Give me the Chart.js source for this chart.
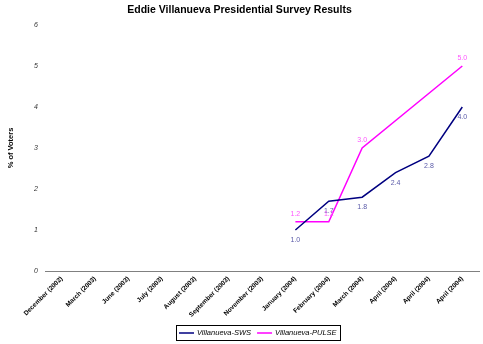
<!DOCTYPE html>
<html>
<head>
<meta charset="utf-8">
<script src="https://cdn.jsdelivr.net/npm/chart.js@4.4.1/dist/chart.umd.min.js"></script>
<style>
  html, body { margin: 0; padding: 0; background: #fff; }
  #wrap { width: 483px; height: 344px; }
</style>
</head>
<body>
<div id="wrap"><canvas id="survey"></canvas></div>
<script>
const months = [
    'December (2002)', 'March (2003)', 'June (2003)', 'July (2003)', 'August (2003)',
    'September (2003)', 'November (2003)', 'January (2004)', 'February (2004)',
    'March (2004)', 'April (2004)', 'April (2004)', 'April (2004)'
];
const swsValues = [null, null, null, null, null, null, null, 1.0, 1.7, 1.8, 2.4, 2.8, 4.0];
const pulseValues = [null, null, null, null, null, null, null, 1.2, 1.2, 3.0, null, null, 5.0];
const yTicks = [0, 1, 2, 3, 4, 5, 6];

const FONT = 'Arial, "Liberation Sans", sans-serif';

// value labels next to each point: SWS under the line, PULSE above it
const pointLabels = {
    id: 'pointLabels',
    afterDatasetsDraw(chart) {
        const ctx = chart.ctx;
        ctx.save();
        ctx.font = '7px ' + FONT;
        ctx.textAlign = 'center';
        ctx.textBaseline = 'alphabetic';
        chart.data.datasets.forEach((ds, i) => {
            const meta = chart.getDatasetMeta(i);
            meta.data.forEach((pt, j) => {
                const v = ds.data[j];
                if (v === null) return;
                ctx.fillStyle = ds.labelColor;
                ctx.fillText(v.toFixed(1), pt.x, pt.y + (ds.labelBelow ? 12 : -6));
            });
        });
        ctx.restore();
    }
};

// boxed legend under the axis labels
const boxLegend = {
    id: 'boxLegend',
    afterDraw(chart) {
        const ctx = chart.ctx;
        const sets = chart.data.datasets;
        const cx = 258, top = 325, h = 15;
        const sample = 15, gap = 3, spacing = 6;
        ctx.save();
        ctx.font = 'italic 7.5px ' + FONT;
        const widths = sets.map(ds => sample + gap + ctx.measureText(ds.label).width);
        const total = widths.reduce((a, b) => a + b, 0) + spacing * (sets.length - 1) + 6;
        let x = Math.round(cx - total / 2);
        ctx.strokeStyle = '#000';
        ctx.lineWidth = 1;
        ctx.strokeRect(x + 0.5, top + 0.5, Math.round(total), h);
        x += 3;
        const mid = top + h / 2 + 0.5;
        sets.forEach((ds, i) => {
            ctx.strokeStyle = ds.borderColor;
            ctx.lineWidth = 1.5;
            ctx.beginPath();
            ctx.moveTo(x, mid);
            ctx.lineTo(x + sample, mid);
            ctx.stroke();
            ctx.fillStyle = '#000';
            ctx.textBaseline = 'middle';
            ctx.fillText(ds.label, x + sample + gap, mid);
            x += widths[i] + spacing;
        });
        ctx.restore();
    }
};

const ctx = document.getElementById('survey').getContext('2d');
new Chart(ctx, {
    type: 'line',
    data: {
        labels: months,
        datasets: [
            {
                label: 'Villanueva-SWS',
                data: swsValues,
                borderColor: '#000080',
                backgroundColor: '#000080',
                borderWidth: 1.5,
                pointRadius: 0,
                tension: 0,
                spanGaps: true,
                labelColor: '#5a5aa8',
                labelBelow: true
            },
            {
                label: 'Villanueva-PULSE',
                data: pulseValues,
                borderColor: '#ff00ff',
                backgroundColor: '#ff00ff',
                borderWidth: 1.5,
                pointRadius: 0,
                tension: 0,
                spanGaps: true,
                labelColor: '#ff55ff',
                labelBelow: false
            }
        ]
    },
    options: {
        responsive: true,
        maintainAspectRatio: false,
        animation: false,
        layout: { padding: { left: 0, right: 4, top: 0, bottom: 23 } },
        plugins: {
            title: {
                display: true,
                text: 'Eddie Villanueva Presidential Survey Results',
                color: '#000',
                font: { family: FONT, size: 10.5, weight: 'bold' },
                padding: { top: 4, bottom: 8.4 }
            },
            legend: { display: false },
            tooltip: { enabled: false }
        },
        scales: {
            x: {
                offset: true,
                grid: { display: false, drawOnChartArea: false, offset: true, drawTicks: true, tickLength: 4, color: '#808080' },
                border: { display: true, color: '#808080' },
                ticks: {
                    color: '#000',
                    maxRotation: 45,
                    minRotation: 45,
                    autoSkip: false,
                    padding: 0,
                    font: { family: FONT, size: 6.5, weight: 'bold' }
                },
                afterFit(scale) { scale.height = 50; }
            },
            y: {
                min: 0,
                max: 6,
                afterBuildTicks(scale) { scale.ticks = yTicks.map(v => ({ value: v })); },
                grid: { display: false, drawTicks: false },
                border: { display: false },
                ticks: {
                    color: '#333',
                    padding: 7,
                    font: { family: FONT, size: 7, style: 'italic' }
                },
                title: {
                    display: true,
                    text: '% of Voters',
                    color: '#000',
                    padding: { top: 6, bottom: 0 },
                    font: { family: FONT, size: 7.5, weight: 'bold' }
                },
                afterFit(scale) { scale.width = 45; }
            }
        }
    },
    plugins: [pointLabels, boxLegend]
});
</script>
</body>
</html>
